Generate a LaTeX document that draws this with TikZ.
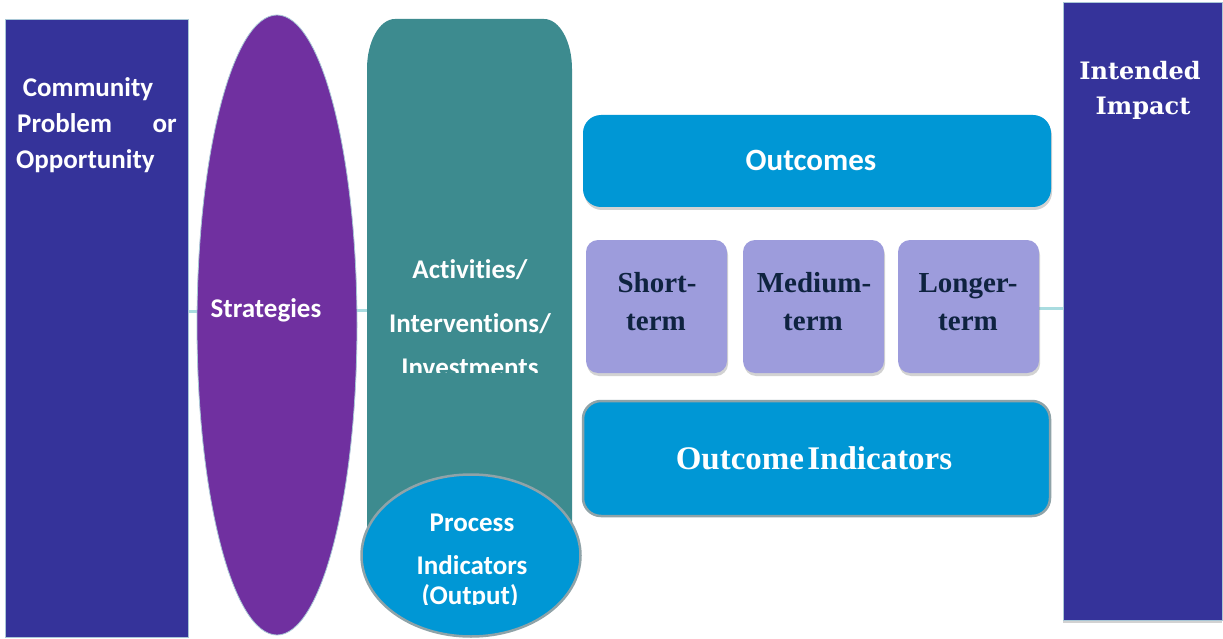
\documentclass[tikz,border=0pt]{standalone}
\usepackage{fontspec}
\setmainfont{Carlito}[Ligatures=NoCommon]
\newfontfamily\lserif{Liberation Serif}
\newfontfamily\dserif{DejaVu Serif}
\usetikzlibrary{shapes.geometric,shadows}
\definecolor{navybox}{HTML}{35339A}
\definecolor{purp}{HTML}{7030A0}
\definecolor{tealc}{HTML}{3D8B8F}
\definecolor{bluec}{HTML}{0097D5}
\definecolor{lav}{HTML}{9D9CDC}
\definecolor{darktxt}{HTML}{0F2340}
\definecolor{conncol}{HTML}{A9DCE0}
\definecolor{grayedge}{HTML}{8FA3A8}
\definecolor{lightedge}{HTML}{A9C7D6}
\tikzset{
  colbox/.style={rectangle, fill=navybox, draw=lightedge, line width=0.8pt, inner sep=0pt},
  termbox/.style={rectangle, rounded corners=12pt, fill=lav, inner sep=0pt,
     minimum width=141pt, minimum height=133pt,
     drop shadow={opacity=0.35, shadow xshift=1pt, shadow yshift=-3pt}},
  bluebox/.style={rectangle, rounded corners=18pt, fill=bluec, inner sep=0pt},
  wtxt/.style={text=white, font=\bfseries\fontsize{27}{27}\selectfont, inner sep=0pt, anchor=base},
  ttxt/.style={text=darktxt, font=\lserif\bfseries\fontsize{29}{29}\selectfont, inner sep=0pt, anchor=base},
  conn/.style={draw=conncol, line width=3pt},
}
\begin{document}
\begin{tikzpicture}[x=1pt,y=-1pt]
\useasboundingbox (0,0) rectangle (1223,639);
\fill[white] (0,0) rectangle (1223,639);
% connectors
\coordinate (c1) at (188,311);
\coordinate (c2) at (200,311);
\coordinate (c3) at (355,310);
\coordinate (c4) at (369,310);
\coordinate (c5) at (1039,308);
\coordinate (c6) at (1064,308);
\draw[conn] (c1) -- (c2);
\draw[conn] (c3) -- (c4);
\draw[conn] (c5) -- (c6);
% left box
\node[colbox, minimum width=183pt, minimum height=618pt] (left) at (96.5,328) {};
\node[wtxt] (t1) at (88,97) {Community};
\node[wtxt, anchor=base west] (t2) at (17,133) {Problem};
\node[wtxt, anchor=base east] (t3) at (177,133) {or};
\node[wtxt, anchor=base west] (t4) at (16,169) {Opportunity};
% strategies ellipse
\node[ellipse, fill=purp, draw=lightedge, line width=0.8pt, minimum width=160pt, minimum height=620pt, inner sep=0pt] (strat) at (277,325) {};
\node[wtxt] (st) at (266,317) {Strategies};
% teal column
\fill[tealc] (367,560) -- (367,69) arc (180:270:28 and 50) -- (544,19)
   arc (270:360:28 and 50) -- (572,560) -- cycle;
\node[rectangle, minimum width=205pt, minimum height=541pt, inner sep=0pt] (act) at (469.5,289.5) {};
\node[wtxt] (a1) at (470,278) {Activities/};
\node[wtxt] (a2) at (470,332) {Interventions/};
\begin{scope}
\clip (367,340) rectangle (572,372);
\node[wtxt] (a3) at (470,376) {Investments};
\end{scope}
% process circle
\node[ellipse, fill=bluec, draw=grayedge, line width=2.5pt, minimum width=219pt, minimum height=162pt, inner sep=0pt] (proc) at (471,555.5) {};
\node[wtxt] (p1) at (472,531) {Process};
\node[wtxt] (p2) at (472,574) {Indicators};
\begin{scope}
\clip (380,580) rectangle (560,604);
\node[wtxt] (p3) at (470,604) {(Output)};
\end{scope}
% outcomes
\node[bluebox, minimum width=468pt, minimum height=92pt,
  drop shadow={opacity=0.35, shadow xshift=1pt, shadow yshift=-3pt}] (out) at (817,161) {};
\node[text=white, font=\bfseries\fontsize{31}{31}\selectfont, inner sep=0pt, anchor=base] (ot) at (811,171) {Outcomes};
% term boxes
\node[termbox] (short) at (656.5,306.5) {};
\node[termbox] (med) at (813.5,306.5) {};
\node[termbox] (long) at (968.5,306.5) {};
\node[ttxt] (s1) at (657,292) {Short-};
\node[ttxt] (s2) at (656,330) {term};
\node[ttxt] (m1) at (814,292) {Medium-};
\node[ttxt] (m2) at (813,330) {term};
\node[ttxt] (l1) at (968,292) {Longer-};
\node[ttxt] (l2) at (968,330) {term};
% outcome indicators
\node[bluebox, draw=grayedge, line width=2.5pt, minimum width=467pt, minimum height=115pt] (oi) at (816.5,458.5) {};
\node[text=white, font=\lserif\bfseries\fontsize{33}{33}\selectfont, inner sep=0pt, anchor=base] (oit) at (814,469) {Outcome\kern0.1em Indicators};
% right box
\node[colbox, minimum width=159pt, minimum height=618pt,
  drop shadow={opacity=0.35, shadow xshift=0pt, shadow yshift=-3pt}] (right) at (1142.5,311) {};
\node[text=white, font=\dserif\bfseries\fontsize{24}{24}\selectfont, inner sep=0pt, anchor=base] (r1) at (1140,80) {Intended};
\node[text=white, font=\dserif\bfseries\fontsize{24}{24}\selectfont, inner sep=0pt, anchor=base] (r2) at (1143,115) {Impact};
\end{tikzpicture}
\end{document}
